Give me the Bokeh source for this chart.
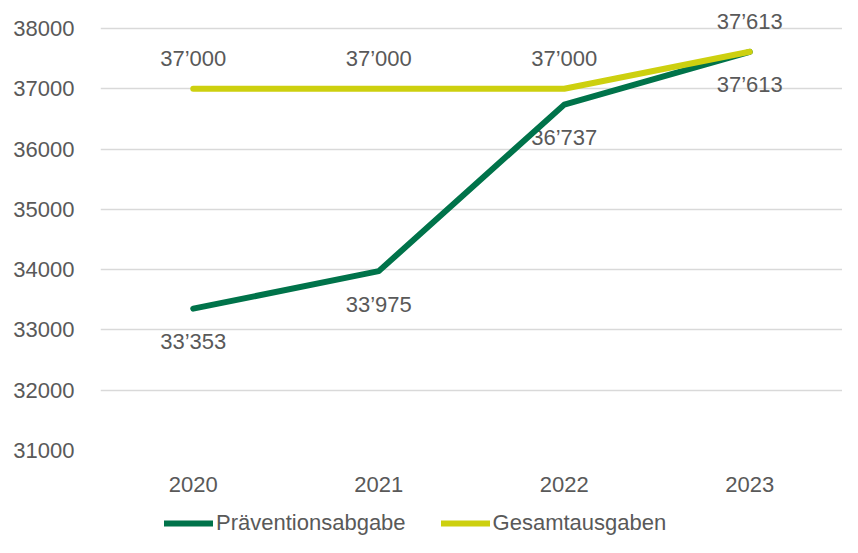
from bokeh.plotting import figure
from bokeh.layouts import column
from bokeh.models import FactorRange, Range1d, FixedTicker, Legend, LegendItem, ColumnDataSource
from bokeh.core.properties import value
from bokeh.embed import file_html
from bokeh.resources import INLINE

years = ["2020", "2021", "2022", "2023"]
praevention = [33353, 33975, 36737, 37613]
gesamt = [37000, 37000, 37000, 37613]
y_ticks = [31000, 32000, 33000, 34000, 35000, 36000, 37000, 38000]
series_names = ["Präventionsabgabe", "Gesamtausgaben"]

def fmt(v):
    return f"{v:,}".replace(",", "\u2019")

GREEN = "#00734A"
LIME = "#CDD00F"
GRAY = "#595959"
FONT = "Liberation Sans"
FS = "22px"

p = figure(width=842, height=508, output_backend="svg", toolbar_location=None,
           x_range=FactorRange(factors=years, range_padding=0),
           y_range=Range1d(31000, 38464),
           min_border_left=100, min_border_right=0, min_border_top=0, min_border_bottom=58)
p.outline_line_color = None
p.background_fill_color = "white"
p.border_fill_color = "white"

p.xgrid.grid_line_color = None
p.ygrid.grid_line_color = "#D9D9D9"
p.ygrid.grid_line_width = 1.5
p.yaxis.ticker = FixedTicker(ticks=y_ticks)
for ax in (p.xaxis, p.yaxis):
    ax.axis_line_color = None
    ax.major_tick_line_color = None
    ax.minor_tick_line_color = None
    ax.major_label_text_font = FONT
    ax.major_label_text_font_size = FS
    ax.major_label_text_color = GRAY
p.yaxis.major_label_standoff = 20
p.xaxis.major_label_standoff = 20

src_p = ColumnDataSource(dict(x=years, y=praevention, t=[fmt(v) for v in praevention]))
src_g = ColumnDataSource(dict(x=years, y=gesamt, t=[fmt(v) for v in gesamt]))

p.text(x="x", y="y", text="t", source=src_p, y_offset=33, text_align="center",
       text_baseline="middle", text_font=value(FONT), text_font_size=FS, text_color=GRAY)
p.text(x="x", y="y", text="t", source=src_g, y_offset=-30, text_align="center",
       text_baseline="middle", text_font=value(FONT), text_font_size=FS, text_color=GRAY)

p.line(x="x", y="y", source=src_p, line_color=GREEN, line_width=6,
       line_cap="round", line_join="round")
p.line(x="x", y="y", source=src_g, line_color=LIME, line_width=6,
       line_cap="round", line_join="round")

# legend strip (frame aligned with the main plot's frame by the column layout)
lf = figure(width=842, height=29, output_backend="svg", toolbar_location=None,
            x_axis_location=None, y_axis_location=None,
            x_range=Range1d(0, 1), y_range=Range1d(0, 1),
            min_border_left=0, min_border_right=0, min_border_top=0, min_border_bottom=0)
lf.outline_line_color = None
lf.xgrid.grid_line_color = None
lf.ygrid.grid_line_color = None
nan = float("nan")
l1 = lf.line(x="x", y="y", source=ColumnDataSource(dict(x=[nan], y=[nan])),
             line_color=GREEN, line_width=6, line_cap="round")
l2 = lf.line(x="x", y="y", source=ColumnDataSource(dict(x=[nan], y=[nan])),
             line_color=LIME, line_width=6, line_cap="round")
legend = Legend(items=[LegendItem(label=series_names[0], renderers=[l1], index=0),
                       LegendItem(label=series_names[1], renderers=[l2], index=0)],
                orientation="horizontal", location=(64, 1),
                padding=0, margin=0, spacing=35, label_standoff=3,
                glyph_width=49, glyph_height=26, label_height=26,
                label_text_font=FONT, label_text_font_size=FS, label_text_color=GRAY,
                border_line_color=None, background_fill_alpha=0)
lf.add_layout(legend, "center")

layout = column(p, lf, spacing=0)
open("out.html", "w").write(file_html(layout, INLINE))
